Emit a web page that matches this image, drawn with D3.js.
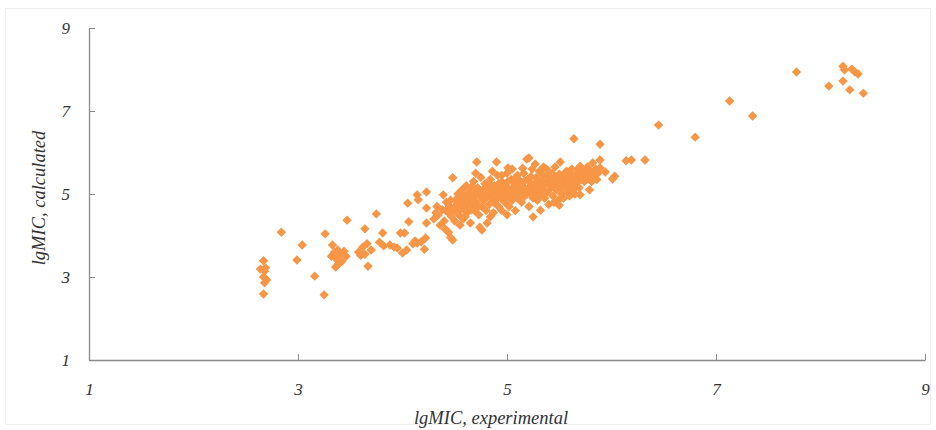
<!DOCTYPE html>
<html>
<head>
<meta charset="utf-8">
<script src="https://cdn.jsdelivr.net/npm/d3@7"></script>
<style>
  html, body { margin: 0; padding: 0; background: #fff; }
  svg { display: block; }
</style>
</head>
<body>
<svg id="chart" width="936" height="430"></svg>
<script>
// ---- Data ----
const xTicks = [1, 3, 5, 7, 9];
const yTicks = [1, 3, 5, 7, 9];
const xTitle = "lgMIC, experimental";
const yTitle = "lgMIC, calculated";

// experimental (x) vs calculated (y) lgMIC values
const pointsLow = [
  [2.67,3.39],[2.64,3.19],[2.68,3.14],[2.69,3.22],[2.67,3.0],[2.7,2.93],[2.68,2.86],[2.67,2.59],
  [2.84,4.08],[3.04,3.77],[2.99,3.41],[3.16,3.02],[3.25,2.57],[3.26,4.04],[3.33,3.77],[3.47,4.37],
  [3.38,3.65],[3.32,3.5],[3.36,3.45],[3.40,3.55],[3.42,3.38],[3.36,3.24],[3.44,3.62],[3.39,3.32],
  [3.46,3.5],[3.35,3.6],[3.64,4.16],[3.75,4.52],[3.81,4.06],[3.58,3.6],[3.62,3.72],[3.66,3.8],
  [3.6,3.52],[3.70,3.65],[3.64,3.55],[3.67,3.26],[3.78,3.84],[3.82,3.75],[3.88,3.77],[3.92,3.72],
  [3.95,3.70],[3.98,4.06],[4.02,4.06],[4.06,4.33],[4.0,3.58],[4.04,3.65],[4.14,3.82],[4.21,3.67],
  [4.22,3.94],[4.05,4.78],[4.14,4.98],[4.15,4.86],[4.23,5.05],[4.23,4.66],[4.23,4.3],[4.18,3.85],
  [4.1,3.8],[4.12,3.87]
];
const pointsCore = [
  [4.30,4.40],[4.32,4.55],[4.34,4.49],[4.36,4.25],[4.33,4.7],[4.39,4.98],[4.38,4.62],[4.40,4.35],
  [4.42,4.8],[4.44,4.08],[4.44,4.55],[4.45,4.7],[4.48,3.89],[4.46,3.95],[4.48,5.39],[4.47,4.45],[4.41,4.15],
  [4.50,4.6],[4.51,4.85],[4.52,4.75],[4.53,5.0],[4.54,4.5],[4.55,4.9],[4.56,4.65],[4.57,5.1],[4.58,4.4],
  [4.58,4.8],[4.60,4.95],[4.60,4.7],[4.61,5.2],[4.62,4.55],[4.63,4.85],[4.64,5.05],[4.65,4.75],[4.66,5.17],
  [4.65,4.3],[4.55,4.25],
  [4.67,4.9],[4.68,5.3],[4.69,4.6],[4.70,5.0],[4.71,5.77],[4.71,4.8],[4.72,5.15],[4.73,4.5],[4.74,4.95],
  [4.75,5.4],[4.76,4.13],[4.76,4.7],[4.77,5.1],[4.78,4.85],[4.79,5.25],[4.80,4.6],[4.81,4.30],[4.80,5.0],
  [4.74,4.2],[4.70,5.5],
  [4.82,5.15],[4.83,4.75],[4.84,5.35],[4.85,4.9],[4.86,5.05],[4.87,4.55],[4.88,5.2],[4.89,4.85],[4.90,5.77],
  [4.90,5.0],[4.91,5.45],[4.92,4.7],[4.93,5.1],[4.94,4.9],[4.95,5.3],[4.95,4.6],[4.86,5.55],[4.84,4.45],
  [4.97,5.05],[4.98,4.8],[4.99,5.2],[5.00,5.5],[5.01,5.63],[5.01,4.95],[5.02,4.7],[5.03,5.1],[5.04,5.35],
  [5.05,4.85],[5.06,5.0],[5.07,5.25],[5.08,4.6],[5.09,5.15],[5.10,4.9],[5.10,5.45],[5.05,5.6],[5.00,4.5],
  [5.12,5.05],[5.13,5.3],[5.14,4.8],[5.15,5.2],[5.16,5.5],[5.17,4.95],[5.18,5.1],[5.19,5.84],[5.20,5.35],
  [5.21,4.7],[5.22,5.0],[5.23,5.25],[5.24,5.6],[5.25,4.9],[5.25,5.15],[5.21,5.87],[5.25,4.45],
  [5.27,5.72],[5.27,5.05],[5.28,5.4],[5.29,4.85],[5.30,5.2],[5.31,5.55],[5.32,4.61],[5.32,5.0],[5.33,5.3],
  [5.34,5.1],[5.35,5.45],[5.36,4.9],[5.37,5.25],[5.38,5.6],[5.39,5.05],[5.40,5.35],[5.40,4.75],
  [5.42,5.15],[5.43,5.5],[5.44,4.95],[5.45,5.3],[5.46,5.65],[5.47,5.1],[5.48,5.4],[5.49,4.85],[5.50,4.73],
  [5.50,5.25],[5.51,5.77],[5.52,5.0],[5.53,5.45],[5.54,4.90],[5.55,5.2],[5.55,5.35],
  [5.57,5.55],[5.58,5.05],[5.59,5.3],[5.60,5.45],[5.61,5.15],[5.62,5.6],[5.63,5.25],[5.64,6.33],[5.65,5.0],
  [5.66,5.4],[5.67,5.5],[5.68,5.3],[5.69,5.15],[5.70,5.67],[5.70,4.98],[5.72,5.45],
  [5.74,5.3],[5.75,5.5],[5.77,5.65],[5.78,5.4],[5.79,5.10],[5.80,5.55],[5.81,5.3],[5.83,5.45],[5.85,5.6],
  [5.87,5.5],[5.89,5.82],[5.89,5.63],[5.89,6.20],[5.94,5.53],[5.86,5.35],[5.82,5.75]
];
const pointsCoreExtra = [
  [4.52,4.88],[4.56,5.02],[4.59,4.62],[4.62,4.98],[4.66,4.62],[4.68,4.78],[4.70,5.12],[4.72,4.68],
  [4.75,5.02],[4.77,4.9],[4.79,5.12],[4.81,4.95],[4.83,5.05],[4.85,5.2],[4.87,4.95],[4.88,4.78],
  [4.90,5.12],[4.92,5.25],[4.94,5.0],[4.96,5.15],[4.97,4.92],[4.99,5.05],[5.01,5.3],[5.03,4.98],
  [5.05,5.12],[5.07,4.95],[5.08,5.38],[5.11,5.2],[5.13,4.98],[5.15,5.08],[5.17,5.32],[5.19,5.0],
  [5.21,5.15],[5.23,5.42],[5.24,5.05],[5.26,5.25],[5.28,5.12],[5.30,5.35],[5.31,4.95],[5.33,5.18],
  [5.35,5.28],[5.37,5.05],[5.39,5.45],[5.41,5.22],[5.44,5.38],[5.46,5.18],[5.48,5.28],[5.50,5.48],
  [5.52,5.12],[5.54,5.3],[5.56,5.42],[5.58,5.22],[5.60,5.35],[5.62,5.45],[5.64,5.12],[5.66,5.28],
  [5.68,5.6],[5.71,5.35],[5.73,5.55],[5.76,5.42],[4.48,4.62],[4.46,4.85],[4.42,4.6],[4.50,4.35],
  [4.60,4.45],[4.95,5.45],[5.15,5.62],[5.35,5.65],[5.45,4.8],[5.60,4.95]
];
const pointsHigh = [
  [6.03,5.43],[6.01,5.36],[6.14,5.80],[6.19,5.82],[6.32,5.82],[6.45,6.66],[6.80,6.37],[7.13,7.24],
  [7.35,6.88],[7.77,7.94],[8.08,7.60],[8.215,8.08],[8.23,7.99],[8.30,8.01],[8.33,7.94],[8.36,7.89],
  [8.215,7.72],[8.28,7.51],[8.41,7.43]
];
const points = pointsLow.concat(pointsCore, pointsCoreExtra, pointsHigh);

// ---- Drawing ----
const svg = d3.select("#chart");
const font = "'Liberation Serif', 'DejaVu Serif', serif";
const axisColor = "#8a8a8a";

svg.append("rect")
  .attr("x", 5.5).attr("y", 8.5).attr("width", 925).attr("height", 416)
  .attr("fill", "#fff").attr("stroke", "#f0f0f0");

const x = d3.scaleLinear().domain([1, 9]).range([89, 925]);
const y = d3.scaleLinear().domain([1, 9]).range([360, 28]);

const xAxis = d3.axisBottom(x).tickValues(xTicks).tickSizeInner(-6).tickSizeOuter(0).tickPadding(23);
const yAxis = d3.axisLeft(y).tickValues(yTicks).tickSizeInner(-6).tickSizeOuter(0).tickPadding(19);

const gx = svg.append("g").attr("transform", `translate(0,${y(1)})`).call(xAxis);
const gy = svg.append("g").attr("transform", `translate(${x(1)},0)`).call(yAxis);

[gx, gy].forEach(g => {
  g.selectAll("path.domain").attr("stroke", axisColor).attr("stroke-width", 1.3);
  g.selectAll(".tick line").attr("stroke", axisColor).attr("stroke-width", 1);
  g.selectAll(".tick text")
    .attr("fill", "#333")
    .style("font-family", font)
    .style("font-style", "italic")
    .style("font-size", "17px");
});

const r = 4.7;
const diamond = `M0,${-r}L${r},0L0,${r}L${-r},0Z`;
svg.append("g").selectAll("path")
  .data(points)
  .join("path")
  .attr("d", diamond)
  .attr("transform", d => `translate(${x(d[0])},${y(d[1])})`)
  .attr("fill", "#F79646");

svg.append("text")
  .attr("x", 491).attr("y", 424)
  .attr("text-anchor", "middle")
  .attr("fill", "#333")
  .style("font-family", font).style("font-style", "italic").style("font-size", "18.5px")
  .text(xTitle);

svg.append("text")
  .attr("transform", "translate(45,198) rotate(-90)")
  .attr("text-anchor", "middle")
  .attr("fill", "#333")
  .style("font-family", font).style("font-style", "italic").style("font-size", "18.5px")
  .text(yTitle);
</script>
</body>
</html>
